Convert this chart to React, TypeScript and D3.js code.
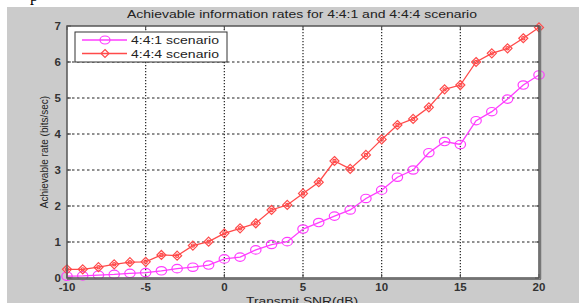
import React, { useRef, useEffect } from 'react';
import * as d3 from 'd3';

// transmit SNR (dB)
const snr = d3.range(-10, 21, 1);

// 4:4:1 scenario
const rate441 = [0.05, 0.06, 0.08, 0.1, 0.13, 0.15, 0.2, 0.26, 0.3, 0.36, 0.53, 0.58, 0.78, 0.93, 1.01,
  1.36, 1.54, 1.72, 1.89, 2.21, 2.44, 2.8, 3.0, 3.48, 3.79, 3.71, 4.37, 4.62, 4.97, 5.36, 5.64];

// 4:4:4 scenario
const rate444 = [0.24, 0.24, 0.3, 0.38, 0.44, 0.45, 0.64, 0.62, 0.9, 1.01, 1.24, 1.38, 1.52, 1.89, 2.03,
  2.35, 2.66, 3.25, 3.03, 3.42, 3.85, 4.25, 4.42, 4.74, 5.24, 5.36, 6.0, 6.24, 6.38, 6.66, 6.96];

const xTicks = [-10, -5, 0, 5, 10, 15, 20];
const yTicks = [0, 1, 2, 3, 4, 5, 6, 7];

const series = [
  { name: '4:4:1 scenario', values: rate441, color: '#ff3cff', marker: 'circle' },
  { name: '4:4:4 scenario', values: rate444, color: '#ff4a4a', marker: 'diamond' },
];

function App() {
  const svgRef = useRef(null);

  useEffect(() => {
    const W = 579, H = 303;
    const left = 67, right = 539, top = 26, bottom = 278;
    const font = '"Liberation Sans", Arial, sans-serif';

    const svg = d3.select(svgRef.current);
    svg.selectAll('*').remove();

    const x = d3.scaleLinear().domain([-10, 20]).range([left, right]);
    const y = d3.scaleLinear().domain([0, 7]).range([bottom, top]);

    // background: white strip on top, grey figure panel
    svg.append('rect').attr('width', W).attr('height', H).attr('fill', '#fff');
    svg.append('rect').attr('x', 7).attr('y', 7).attr('width', W - 7).attr('height', H - 7).attr('fill', '#cbcbcb');
    // bit of text cut off at the very top (as in the source image)
    svg.append('text').attr('x', 30).attr('y', 1).attr('font-family', 'serif').attr('font-size', 16).text('p');

    svg.append('rect').attr('x', left).attr('y', top).attr('width', right - left).attr('height', bottom - top).attr('fill', '#fff');

    // grid
    svg.append('g').selectAll('line').data(yTicks.slice(1, -1)).join('line')
      .attr('x1', left).attr('x2', right).attr('y1', d => y(d)).attr('y2', d => y(d))
      .attr('stroke', '#222').attr('stroke-width', 1.2).attr('stroke-dasharray', '2.5,2.5');
    svg.append('g').selectAll('line').data(xTicks.slice(1, -1)).join('line')
      .attr('y1', top).attr('y2', bottom).attr('x1', d => x(d)).attr('x2', d => x(d))
      .attr('stroke', '#222').attr('stroke-width', 1.2).attr('stroke-dasharray', '1.3,1.7');

    // tick marks (inside, all four sides)
    const tk = 4;
    const ticks = svg.append('g').attr('stroke', '#444').attr('stroke-width', 1);
    xTicks.forEach(t => {
      ticks.append('line').attr('x1', x(t)).attr('x2', x(t)).attr('y1', bottom).attr('y2', bottom - tk);
      ticks.append('line').attr('x1', x(t)).attr('x2', x(t)).attr('y1', top).attr('y2', top + tk);
    });
    yTicks.forEach(t => {
      ticks.append('line').attr('y1', y(t)).attr('y2', y(t)).attr('x1', left).attr('x2', left + tk);
      ticks.append('line').attr('y1', y(t)).attr('y2', y(t)).attr('x1', right).attr('x2', right - tk);
    });

    // series
    series.forEach(s => {
      const pts = snr.map((v, i) => [v, s.values[i]]);
      const line = d3.line().x(d => x(d[0])).y(d => y(d[1]));
      svg.append('path').datum(pts).attr('d', line).attr('fill', 'none')
        .attr('stroke', s.color).attr('stroke-width', 1.3);
      const g = svg.append('g').attr('fill', 'none').attr('stroke', s.color).attr('stroke-width', 1.2);
      pts.forEach(d => {
        const cx = x(d[0]), cy = y(d[1]);
        if (s.marker === 'circle') {
          g.append('ellipse').attr('cx', cx).attr('cy', cy).attr('rx', 5.2).attr('ry', 4.2);
        } else {
          g.append('path').attr('d', `M${cx},${cy - 4.5}L${cx + 4.5},${cy}L${cx},${cy + 4.5}L${cx - 4.5},${cy}Z`);
          g.append('circle').attr('cx', cx).attr('cy', cy).attr('r', 1.6);
        }
      });
    });

    // axes box
    svg.append('rect').attr('x', left).attr('y', top).attr('width', right - left).attr('height', bottom - top)
      .attr('fill', 'none').attr('stroke', '#555').attr('stroke-width', 1.5);
    svg.append('line').attr('x1', right + 1.5).attr('x2', right + 1.5).attr('y1', top).attr('y2', bottom + 1)
      .attr('stroke', '#777').attr('stroke-width', 1.5);
    svg.append('line').attr('x1', left).attr('x2', right + 2).attr('y1', bottom + 1.5).attr('y2', bottom + 1.5)
      .attr('stroke', '#777').attr('stroke-width', 1);

    // tick labels
    svg.append('g').selectAll('text').data(xTicks).join('text')
      .attr('x', d => x(d)).attr('y', 291).attr('text-anchor', 'middle')
      .attr('font-family', font).attr('font-size', 11.5).attr('font-weight', 'bold').attr('fill', '#333')
      .text(d => d);
    svg.append('g').selectAll('text').data(yTicks).join('text')
      .attr('x', left - 6).attr('y', d => y(d) + 4).attr('text-anchor', 'end')
      .attr('font-family', font).attr('font-size', 11.5).attr('font-weight', 'bold').attr('fill', '#333')
      .text(d => d);

    // title and axis labels
    svg.append('text').attr('x', 302).attr('y', 18).attr('text-anchor', 'middle')
      .attr('font-family', font).attr('font-size', 11).attr('fill', '#222')
      .attr('textLength', 350).attr('lengthAdjust', 'spacingAndGlyphs')
      .text('Achievable information rates for 4:4:1 and 4:4:4 scenario');
    svg.append('text').attr('x', 302).attr('y', 305).attr('text-anchor', 'middle')
      .attr('font-family', font).attr('font-size', 11).attr('fill', '#222')
      .attr('textLength', 112).attr('lengthAdjust', 'spacingAndGlyphs')
      .text('Transmit SNR(dB)');
    svg.append('text').attr('transform', `translate(48,${(top + bottom) / 2}) rotate(-90)`)
      .attr('text-anchor', 'middle').attr('font-family', font).attr('font-size', 10).attr('fill', '#222')
      .text('Achievable rate (bits/sec)');

    // legend
    const lg = svg.append('g');
    lg.append('rect').attr('x', 75).attr('y', 32).attr('width', 152).attr('height', 30)
      .attr('fill', '#fff').attr('stroke', '#333').attr('stroke-width', 1);
    series.forEach((s, i) => {
      const ly = 40 + i * 13.5;
      lg.append('line').attr('x1', 82).attr('x2', 127).attr('y1', ly).attr('y2', ly)
        .attr('stroke', s.color).attr('stroke-width', 1.3);
      if (s.marker === 'circle') {
        lg.append('ellipse').attr('cx', 105).attr('cy', ly).attr('rx', 5).attr('ry', 4)
          .attr('fill', 'none').attr('stroke', s.color).attr('stroke-width', 1.2);
      } else {
        lg.append('path').attr('d', `M105,${ly - 4}L109,${ly}L105,${ly + 4}L101,${ly}Z`)
          .attr('fill', 'none').attr('stroke', s.color).attr('stroke-width', 1.2);
      }
      lg.append('text').attr('x', 131).attr('y', ly + 4).attr('font-family', font).attr('font-size', 11.5)
        .attr('textLength', 88).attr('lengthAdjust', 'spacingAndGlyphs')
        .attr('fill', '#222').text(s.name);
    });
  }, []);

  return (
    <svg ref={svgRef} width={579} height={303}
      style={{ position: 'absolute', left: 0, top: 0, display: 'block' }} />
  );
}

export default App;
